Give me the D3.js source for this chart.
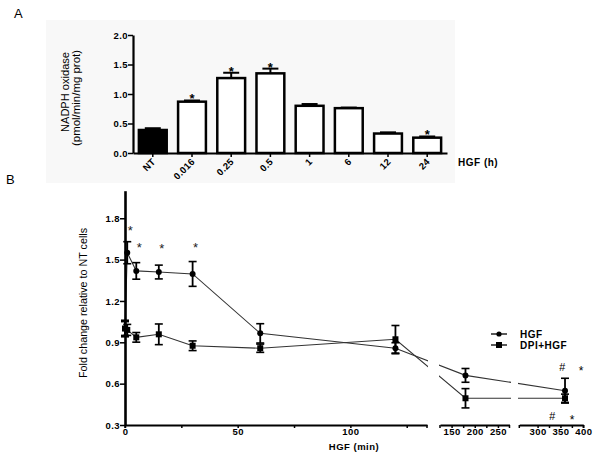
<!DOCTYPE html>
<html><head><meta charset="utf-8">
<script src="https://cdn.jsdelivr.net/npm/d3@7"></script>
<style>
body{margin:0;background:#fff;}
svg{display:block;font-family:"Liberation Sans",Arial,sans-serif;}
</style></head>
<body><svg id="c" width="602" height="456"></svg>
<script>
// ---- Panel A data ----
const catsA = ["NT","0.016","0.25","0.5","1","6","12","24"];
const valsA = [0.39,0.87,1.27,1.35,0.80,0.76,0.33,0.26];
const errA  = [0.03,0.02,0.09,0.08,0.03,0.01,0.02,0.02];
const starA = [false,true,true,true,false,false,false,true];
const ticksA = [0,0.5,1.0,1.5,2.0];

// ---- Panel B data ----
const timesHGF = [0,1,5,15,30,60,120,180,360];
const valsHGF  = [1.00,1.55,1.418,1.41,1.396,0.965,0.857,0.66,0.549];
const errHGF   = [0.05,0.08,0.06,0.05,0.09,0.07,0.04,0.05,0.09];
const timesDPI = [0,1,5,15,30,60,120,180,360];
const valsDPI  = [1.00,0.99,0.936,0.958,0.875,0.857,0.922,0.494,0.494];
const errDPI   = [0.06,0.04,0.035,0.075,0.035,0.03,0.10,0.07,0.03];
const starTimesB = [1,5,15,30];
const starValsB  = [1.72,1.60,1.59,1.60];
const ticksBy = [0.3,0.6,0.9,1.2,1.5,1.8];
const seg1Major = [0,50,100], seg1Minor=[25,75,125];
const seg2Major = [150,200,250], seg2Minor=[175,225];
const seg3Major = [300,350,400], seg3Minor=[325,375];

const svg = d3.select("#c");

svg.append("rect").attr("x",46).attr("y",20).attr("width",409).attr("height",163).attr("fill","#f8f8f8");

svg.append("text").attr("x",14).attr("y",18).attr("font-size",13).text("A");
svg.append("text").attr("x",6).attr("y",184).attr("font-size",13).text("B");

// ================= Panel A =================
const yA = d3.scaleLinear().domain([0,2]).range([153,35]);
const xA = d3.scaleBand().domain(catsA).range([133,447]).paddingInner(0.29).paddingOuter(0.15);

const gA = svg.append("g");
gA.selectAll("rect.bar").data(catsA).join("rect")
  .attr("x",d=>xA(d)).attr("width",xA.bandwidth())
  .attr("y",(d,i)=>yA(valsA[i])).attr("height",(d,i)=>yA(0)-yA(valsA[i]))
  .attr("fill",(d,i)=>i===0?"#000":"#fff").attr("stroke","#000").attr("stroke-width",2.5);
catsA.forEach((c,i)=>{
  const cx = xA(c)+xA.bandwidth()/2;
  gA.append("line").attr("x1",cx).attr("x2",cx).attr("y1",yA(valsA[i])).attr("y2",yA(valsA[i]+errA[i]))
    .attr("stroke","#000").attr("stroke-width",2);
  gA.append("line").attr("x1",cx-8).attr("x2",cx+8).attr("y1",yA(valsA[i]+errA[i])).attr("y2",yA(valsA[i]+errA[i]))
    .attr("stroke","#000").attr("stroke-width",2);
  if(starA[i]) gA.append("text").attr("x",cx).attr("y",yA(valsA[i]+errA[i])+3).attr("text-anchor","middle")
    .attr("font-size",13).attr("font-weight","bold").text("*");
});
const axA = gA.append("g").attr("transform","translate(133,0)")
  .call(d3.axisLeft(yA).tickValues(ticksA).tickFormat(d3.format(".1f")).tickSize(5).tickSizeOuter(0));
axA.select(".domain").attr("stroke-width",2.2);
axA.selectAll(".tick line").attr("stroke-width",1.5);
axA.selectAll(".tick text").attr("font-size",9.5).attr("font-weight","bold").attr("letter-spacing",0.4).attr("x",-5);
const axAx = gA.append("g").attr("transform","translate(0,153)")
  .call(d3.axisBottom(xA).tickSize(4).tickSizeOuter(0).tickFormat(""));
axAx.select(".domain").attr("stroke-width",2.2);
axAx.selectAll(".tick line").attr("stroke-width",1.5);
catsA.forEach(c=>{
  const cx = xA(c)+xA.bandwidth()/2;
  gA.append("text").attr("transform",`translate(${cx+1},${160}) rotate(-45)`).attr("text-anchor","end")
    .attr("dy","0.35em").attr("font-size",9.5).attr("font-weight","bold").attr("letter-spacing",0.3).text(c);
});
gA.append("text").attr("x",458).attr("y",166).attr("font-size",10).attr("font-weight","bold").attr("letter-spacing",0.5).text("HGF (h)");
gA.append("text").attr("transform","translate(69,92) rotate(-90)").attr("text-anchor","middle")
  .attr("font-size",10).attr("textLength",80).attr("lengthAdjust","spacingAndGlyphs").text("NADPH oxidase");
gA.append("text").attr("transform","translate(80,98) rotate(-90)").attr("text-anchor","middle")
  .attr("font-size",10).attr("textLength",96).attr("lengthAdjust","spacingAndGlyphs").text("(pmol/min/mg prot)");

// ================= Panel B =================
const yB = d3.scaleLinear().domain([0.3,2.0]).range([425,190.7]);
const seg1 = d3.scaleLinear().domain([0,134]).range([125,427]);
const seg2 = d3.scaleLinear().domain([125,275]).range([440,509.5]);
const seg3 = d3.scaleLinear().domain([260,400]).range([519.3,583.3]);
const xB = t => t<=134 ? seg1(t) : (t<=275 ? seg2(t) : seg3(t));

const gB = svg.append("g");
const cp = svg.append("defs").append("clipPath").attr("id","gaps");
[[0,428],[439,511],[518,602]].forEach(r=>cp.append("rect").attr("x",r[0]).attr("y",0).attr("width",r[1]-r[0]).attr("height",456));

const line = d3.line().x(d=>xB(d[0])).y(d=>yB(d[1]));
const hgf = timesHGF.map((t,i)=>[t,valsHGF[i],errHGF[i]]);
const dpi = timesDPI.map((t,i)=>[t,valsDPI[i],errDPI[i]]);
gB.append("path").attr("d",line(hgf)).attr("fill","none").attr("stroke","#333").attr("stroke-width",1.1).attr("clip-path","url(#gaps)");
gB.append("path").attr("d",line(dpi)).attr("fill","none").attr("stroke","#333").attr("stroke-width",1.1).attr("clip-path","url(#gaps)");

function errBars(data){
  data.forEach(d=>{
    const x=xB(d[0]);
    gB.append("line").attr("x1",x).attr("x2",x).attr("y1",yB(d[1]-d[2])).attr("y2",yB(d[1]+d[2])).attr("stroke","#000").attr("stroke-width",1.8);
    [d[1]-d[2],d[1]+d[2]].forEach(v=>gB.append("line").attr("x1",x-4).attr("x2",x+4).attr("y1",yB(v)).attr("y2",yB(v)).attr("stroke","#000").attr("stroke-width",1.6));
  });
}
errBars(hgf); errBars(dpi);
gB.selectAll("circle.h").data(hgf).join("circle").attr("cx",d=>xB(d[0])).attr("cy",d=>yB(d[1])).attr("r",3).attr("fill","#000");
gB.selectAll("rect.d").data(dpi).join("rect").attr("x",d=>xB(d[0])-3).attr("y",d=>yB(d[1])-3).attr("width",6).attr("height",6).attr("fill","#000");

starTimesB.forEach((t,i)=>gB.append("text").attr("x",xB(t)+3).attr("y",yB(starValsB[i])+6).attr("text-anchor","middle")
  .attr("font-size",13).attr("fill","#222").text("*"));
gB.append("text").attr("x",562).attr("y",371).attr("text-anchor","middle").attr("font-size",11).attr("font-style","italic").text("#");
gB.append("text").attr("x",581).attr("y",375).attr("text-anchor","middle").attr("font-size",12).text("*");
gB.append("text").attr("x",552).attr("y",420).attr("text-anchor","middle").attr("font-size",11).attr("font-style","italic").text("#");
gB.append("text").attr("x",572).attr("y",424).attr("text-anchor","middle").attr("font-size",12).text("*");

const axB = gB.append("g").attr("transform","translate(125,0)")
  .call(d3.axisLeft(yB).tickValues(ticksBy).tickFormat(d3.format(".1f")).tickSize(5).tickSizeOuter(0));
axB.select(".domain").attr("stroke-width",2.6);
axB.selectAll(".tick line").attr("stroke-width",1.5);
axB.selectAll(".tick text").attr("font-size",9.5).attr("font-weight","bold").attr("letter-spacing",0.4).attr("x",-5);

function seg(scale, major, minor){
  const g = gB.append("g").attr("transform","translate(0,425)");
  const ax = g.call(d3.axisBottom(scale).tickValues(major.concat(minor)).tickSize(3).tickSizeOuter(0)
    .tickFormat(d=>major.includes(d)?d:""));
  ax.select(".domain").attr("stroke-width",2);
  ax.selectAll(".tick line").attr("stroke-width",1.5);
  ax.selectAll(".tick text").attr("font-size",9.5).attr("font-weight","bold").attr("letter-spacing",0.4).attr("y",3);
  scale.range().forEach(x=>g.append("line").attr("x1",x).attr("x2",x).attr("y1",0).attr("y2",3).attr("stroke","#000").attr("stroke-width",1.5));
}
seg(seg1,seg1Major,seg1Minor);
seg(seg2,seg2Major,seg2Minor);
seg(seg3,seg3Major,seg3Minor);

gB.append("text").attr("x",354).attr("y",450).attr("text-anchor","middle").attr("font-size",9.5).attr("font-weight","bold").attr("letter-spacing",0.5).text("HGF (min)");
gB.append("text").attr("transform","translate(87,303) rotate(-90)").attr("text-anchor","middle")
  .attr("font-size",10).attr("textLength",150).attr("lengthAdjust","spacingAndGlyphs").text("Fold change relative to NT cells");

const legend = [["HGF","circle"],["DPI+HGF","square"]];
legend.forEach((l,i)=>{
  const y = 334 + i*11;
  gB.append("line").attr("x1",491).attr("x2",507).attr("y1",y).attr("y2",y).attr("stroke","#000").attr("stroke-width",1.3);
  if(l[1]==="circle") gB.append("circle").attr("cx",499).attr("cy",y).attr("r",2.6).attr("fill","#000");
  else gB.append("rect").attr("x",496).attr("y",y-3).attr("width",6).attr("height",6).attr("fill","#000");
  gB.append("text").attr("x",520).attr("y",y).attr("dy","0.35em").attr("font-size",10).attr("font-weight","bold").attr("letter-spacing",0.5).text(l[0]);
});
</script></body></html>
